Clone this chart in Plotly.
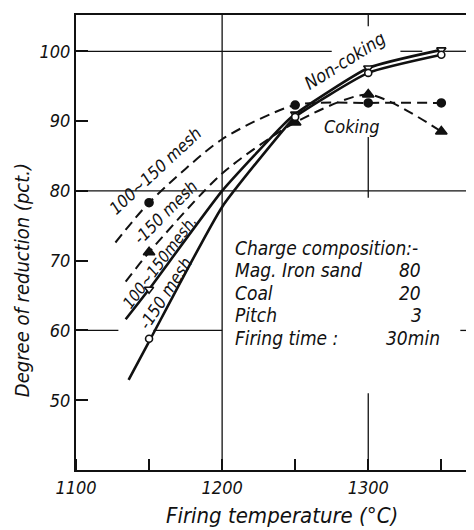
import plotly.graph_objects as go

# ---------------- data ----------------
temps = [1150, 1250, 1300, 1350]  # measured firing temperatures (°C)

# Coking, 100~150 mesh : dashed line, filled circles
coke_coarse_curve_x = [1127, 1150, 1200, 1250, 1300, 1350]
coke_coarse_curve_y = [72.6, 78.3, 87.4, 92.3, 92.6, 92.6]
coke_coarse_pts = [78.3, 92.3, 92.6, 92.6]

# Coking, -150 mesh : dashed line, filled triangles
coke_fine_curve_x = [1134, 1150, 1200, 1250, 1300, 1350]
coke_fine_curve_y = [67.0, 71.2, 82.5, 89.8, 93.8, 88.5]
coke_fine_pts = [71.2, 89.8, 93.8, 88.5]

# Non-coking, 100~150 mesh : solid line, open triangles
noncoke_coarse_curve_x = [1134, 1150, 1200, 1242, 1250, 1300, 1350]
noncoke_coarse_curve_y = [61.6, 65.9, 80.0, 89.5, 91.0, 97.6, 100.2]
noncoke_coarse_pts = [65.9, 91.0, 97.6, 100.2]

# Non-coking, -150 mesh : solid line, open circles
noncoke_fine_curve_x = [1136, 1151, 1200, 1243, 1250, 1300, 1350]
noncoke_fine_curve_y = [52.9, 58.8, 77.7, 89.0, 90.6, 96.9, 99.5]
noncoke_fine_pts = [58.8, 90.6, 96.9, 99.5]

y_ticks = [50, 60, 70, 80, 90, 100]
x_ticks = [1100, 1200, 1300]

charge_labels = ["Charge composition:-", "Mag. Iron sand", "Coal", "Pitch", "Firing time :"]
charge_values = ["", "80", "20", "3", "30min"]
charge_value_x = [None, 1320, 1320, 1328, 1311]

# ---------------- figure ----------------
FONT = "DejaVu Sans Condensed, DejaVu Sans, sans-serif"
INK = "#111111"

fig = go.Figure()

def curve(x, y, dash, width, smooth):
    fig.add_trace(go.Scatter(x=x, y=y, mode="lines",
                             line=dict(color=INK, width=width, dash=dash, shape="spline", smoothing=smooth),
                             showlegend=False, hoverinfo="skip"))

def marks(y, symbol, size, fill):
    fig.add_trace(go.Scatter(x=temps, y=y, mode="markers",
                             marker=dict(symbol=symbol, size=size, color=fill,
                                         line=dict(color=INK, width=1.6)),
                             showlegend=False))

curve(coke_coarse_curve_x, coke_coarse_curve_y, "10px,6px", 2, 0.7)
curve(coke_fine_curve_x, coke_fine_curve_y, "10px,6px", 2, 0.7)
curve(noncoke_coarse_curve_x, noncoke_coarse_curve_y, "solid", 2.6, 0.5)
curve(noncoke_fine_curve_x, noncoke_fine_curve_y, "solid", 2.6, 0.5)

marks(coke_coarse_pts, "circle", 8, INK)
marks(coke_fine_pts, "triangle-up", 10, INK)
marks(noncoke_coarse_pts, "triangle-down", 8, "white")
marks(noncoke_fine_pts, "circle", 7, "white")

# partial grid lines (broken by lettering in the original)
grid = dict(color=INK, width=1.3)
for x0, x1, yv in [(1100, 1275, 100), (1322, 1337, 100), (1352, 1371, 100),
                   (1100, 1371, 80),
                   (1100, 1129, 60), (1153, 1200, 60), (1363, 1371, 60)]:
    fig.add_shape(type="line", x0=x0, x1=x1, y0=yv, y1=yv, xref="x", yref="y",
                  line=grid, layer="below")
for xv, y0, y1 in [(1200, 40, 105.2), (1300, 40, 51), (1300, 79, 87.7), (1300, 103.6, 105.2)]:
    fig.add_shape(type="line", x0=xv, x1=xv, y0=y0, y1=y1, xref="x", yref="y",
                  line=grid, layer="below")

def label(text, x, y, angle=0, size=15, xanchor="center", xref="x", yref="y"):
    fig.add_annotation(text=text, x=x, y=y, xref=xref, yref=yref, showarrow=False,
                       textangle=angle, xanchor=xanchor, yanchor="middle",
                       font=dict(family=FONT, size=size, color=INK, style="italic"))

label("100~150 mesh", 1154, 82.9, -43, 17)
label("-150 mesh", 1161.5, 76.9, -45, 17)
label("100~150mesh.", 1157, 69.8, -53, 16)
label("-150 mesh", 1161.5, 65.3, -57, 17)
label("Non-coking", 1284, 98.7, -32, 18)
label("Coking", 1289, 89.2, 0, 18)

line_y = [71.8, 68.6, 65.3, 62.2, 58.9]
for txt, val, vx, yy in zip(charge_labels, charge_values, charge_value_x, line_y):
    label(txt, 1207.5, yy, 0, 19, "left")
    if val:
        label(val, vx, yy, 0, 19, "left")

# axis titles
label("Firing temperature (°C)", 0.52, -0.099, 0, 22, "center", "paper", "paper")
label("Degree of reduction (pct.)", -0.138, 0.418, -90, 20, "center", "paper", "paper")

axis_font = dict(family=FONT, size=18, color=INK, style="italic")
fig.update_layout(
    width=466, height=522,
    margin=dict(l=68, r=2, t=7, b=60),
    paper_bgcolor="white", plot_bgcolor="white",
    xaxis=dict(range=[1100, 1371], tickvals=x_ticks, ticktext=[str(v) for v in x_ticks],
               ticks="", showgrid=False, zeroline=False, automargin=False,
               showline=True, linecolor=INK, linewidth=2, mirror=True,
               tickfont=axis_font,
               minor=dict(dtick=50, tick0=1100, ticks="inside", ticklen=11,
                          tickcolor=INK, tickwidth=1.5, showgrid=False)),
    yaxis=dict(range=[40, 105.2], tickvals=y_ticks, ticktext=[str(v) for v in y_ticks],
               ticks="inside", ticklen=12, tickcolor=INK, tickwidth=1.5,
               showgrid=False, zeroline=False, automargin=False,
               showline=True, linecolor=INK, linewidth=2, mirror=True,
               tickfont=axis_font),
)

fig.write_html("out.html")
